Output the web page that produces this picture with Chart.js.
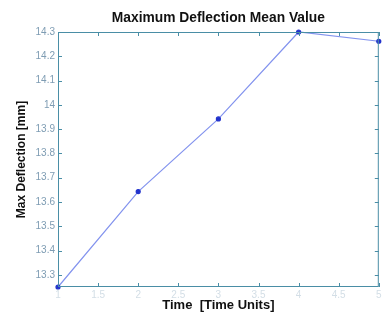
<!DOCTYPE html>
<html>
<head>
<meta charset="utf-8">
<script src="https://cdn.jsdelivr.net/npm/chart.js@4/dist/chart.umd.min.js"></script>
<style>
  html, body { margin: 0; padding: 0; background: #fff; }
  #wrap { width: 384px; height: 320px; }
</style>
</head>
<body>
<div id="wrap"><canvas id="chart"></canvas></div>
<script>
// data
const timeValues = [1, 2, 3, 4, 5]
const deflectionValues = [13.25, 13.643, 13.942, 14.3, 14.262]
const xTicks = [1, 1.5, 2, 2.5, 3, 3.5, 4, 4.5, 5]
const yTicks = [13.3, 13.4, 13.5, 13.6, 13.7, 13.8, 13.9, 14, 14.1, 14.2, 14.3]

const axisColor = '#4a8ea6'
const fontFamily = 'Liberation Sans, Arial'

// matlab style labels: 14, 14.1 ...
const fmt = v => String(Math.round(v * 100) / 100)

// matlab style box with inward ticks
const boxPlugin = {
  id: 'box',
  afterDatasetsDraw(chart) {
    const { ctx, chartArea: a, scales } = chart
    ctx.save()
    ctx.strokeStyle = axisColor
    ctx.lineWidth = 1
    ctx.strokeRect(a.left + 0.5, a.top + 0.5, a.right - a.left - 1, a.bottom - a.top - 1)
    ctx.beginPath()
    xTicks.forEach(v => {
      const x = Math.round(scales.x.getPixelForValue(v)) + 0.5
      ctx.moveTo(x, a.bottom); ctx.lineTo(x, a.bottom - 4)
      ctx.moveTo(x, a.top); ctx.lineTo(x, a.top + 4)
    })
    yTicks.forEach(v => {
      const y = Math.round(scales.y.getPixelForValue(v)) + 0.5
      ctx.moveTo(a.left, y); ctx.lineTo(a.left + 4, y)
      ctx.moveTo(a.right, y); ctx.lineTo(a.right - 4, y)
    })
    ctx.stroke()
    ctx.restore()
  }
}

const ctx = document.getElementById('chart').getContext('2d')
new Chart(ctx, {
  type: 'line',
  data: {
    datasets: [{
      data: timeValues.map((t, i) => ({ x: t, y: deflectionValues[i] })),
      borderColor: '#8393ee',
      borderWidth: 1.2,
      pointBackgroundColor: '#2233cc',
      pointBorderColor: '#2233cc',
      pointRadius: 2,
      tension: 0,
      clip: false
    }]
  },
  options: {
    responsive: true,
    maintainAspectRatio: false,
    animation: false,
    layout: { padding: { left: 0, right: 3, top: 0, bottom: 0 } },
    plugins: {
      legend: { display: false },
      tooltip: { enabled: false },
      title: { display: false }
    },
    scales: {
      // top axis only carries the title so it centres over the plot
      top: {
        type: 'linear',
        position: 'top',
        axis: 'x',
        min: 1,
        max: 5,
        afterFit: s => { s.height = 32; s.paddingLeft = 0; s.paddingRight = 0 },
        grid: { display: false },
        border: { display: false },
        ticks: { display: false },
        title: {
          display: true,
          text: 'Maximum Deflection Mean Value',
          color: '#111',
          font: { family: fontFamily, size: 13.8, weight: 'bold' },
          padding: { top: 10, bottom: 0 }
        }
      },
      x: {
        type: 'linear',
        position: 'bottom',
        min: 1,
        max: 5,
        afterBuildTicks: s => { s.ticks = xTicks.map(v => ({ value: v })) },
        afterFit: s => { s.height = 33; s.paddingLeft = 0; s.paddingRight = 0 },
        grid: { display: true, drawOnChartArea: false, drawTicks: false, color: 'rgba(0,0,0,0)' },
        border: { display: false },
        ticks: {
          padding: 2,
          maxRotation: 0,
          autoSkip: false,
          color: '#d3dee6',
          callback: fmt,
          font: { family: fontFamily, size: 10 }
        },
        title: {
          display: true,
          text: 'Time  [Time Units]',
          color: '#111',
          font: { family: fontFamily, size: 13, weight: 'bold' },
          padding: { top: 0, bottom: 7 }
        }
      },
      y: {
        min: 13.25,
        max: 14.3,
        afterBuildTicks: s => { s.ticks = yTicks.map(v => ({ value: v })) },
        afterFit: s => { s.width = 58; s.paddingTop = 0; s.paddingBottom = 0 },
        grid: { display: true, drawOnChartArea: false, drawTicks: false, color: 'rgba(0,0,0,0)' },
        border: { display: false },
        ticks: {
          padding: 3,
          autoSkip: false,
          color: '#7e9cb3',
          callback: fmt,
          font: { family: fontFamily, size: 10 }
        },
        title: {
          display: true,
          text: 'Max Deflection [mm]',
          color: '#111',
          font: { family: fontFamily, size: 12, weight: 'bold' },
          padding: { top: 14, bottom: 0 }
        }
      }
    }
  },
  plugins: [boxPlugin]
})
</script>
</body>
</html>
